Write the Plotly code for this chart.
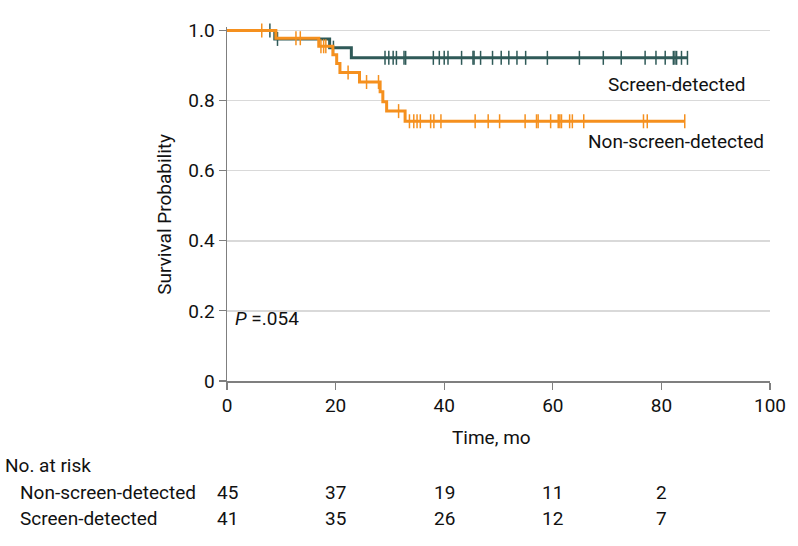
import numpy as np
import plotly.graph_objects as go

# ---- data ----
x_ticks = [0, 20, 40, 60, 80, 100]
y_tickvals = [0, 0.2, 0.4, 0.6, 0.8, 1.0]
y_ticktext = ["0", "0.2", "0.4", "0.6", "0.8", "1.0"]

screen_step_t = [0, 8.8, 18.9, 22.9]
screen_step_s = [1.0, 0.976, 0.951, 0.922]
screen_end = 84.8
screen_censor = [7.9, 9.3, 19.6, 29.1, 29.8, 30.6, 31.2, 32.6, 32.9, 38.0, 39.1, 40.0,
                 40.7, 43.2, 45.3, 45.5, 46.7, 48.9, 50.5, 51.9, 53.4, 55.0, 59.0, 64.9,
                 69.3, 72.6, 77.0, 79.0, 80.7, 82.2, 82.5, 82.8, 83.7, 84.8]

nonscreen_step_t = [0, 9.0, 16.9, 19.5, 20.2, 20.8, 24.4, 28.2, 28.7, 29.4, 32.8]
nonscreen_step_s = [1.0, 0.978, 0.955, 0.931, 0.906, 0.880, 0.853, 0.825, 0.797, 0.770, 0.741]
nonscreen_end = 84.3
nonscreen_censor = [6.4, 12.7, 13.5, 17.3, 17.8, 18.2, 22.3, 25.7, 27.9, 31.6, 33.6, 34.4,
                    35.0, 35.6, 37.5, 38.1, 39.4, 45.7, 48.1, 50.2, 54.9, 57.0, 57.3, 59.6,
                    61.0, 61.3, 61.6, 63.1, 63.6, 65.7, 76.7, 77.4, 84.3]

risk_times = [0, 20, 40, 60, 80]
risk_nonscreen = [45, 37, 19, 11, 2]
risk_screen = [41, 35, 26, 12, 7]

GREEN = "#2f5a58"
ORANGE = "#f5901e"
FONT = "Roboto"
FS = 19


def surv_at(t_steps, s_steps, t):
    idx = np.searchsorted(np.asarray(t_steps), np.asarray(t), side="right") - 1
    return np.asarray(s_steps)[idx]


fig = go.Figure()

for st, ss, end, cens, col in [
    (screen_step_t, screen_step_s, screen_end, screen_censor, GREEN),
    (nonscreen_step_t, nonscreen_step_s, nonscreen_end, nonscreen_censor, ORANGE),
]:
    fig.add_trace(go.Scatter(
        x=list(st) + [end], y=list(ss) + [ss[-1]], mode="lines",
        line=dict(color=col, width=3, shape="hv"), showlegend=False, hoverinfo="skip"))
    fig.add_trace(go.Scatter(
        x=cens, y=surv_at(st, ss, cens), mode="markers",
        marker=dict(symbol="line-ns", size=10, line=dict(color=col, width=1.5)),
        showlegend=False, cliponaxis=False, hoverinfo="skip"))

W, H = 798, 546
L, T, B, R = 227, 27, 165, 22
ph = H - T - B
pw = W - L - R


def py(pix):
    return (H - B - pix) / ph


def px(pix):
    return (pix - L) / pw


annots = [
    dict(x=82.7, y=0.846, xref="x", yref="y", text="Screen-detected", showarrow=False,
         xanchor="center", yanchor="middle"),
    dict(x=82.6, y=0.684, xref="x", yref="y", text="Non-screen-detected", showarrow=False,
         xanchor="center", yanchor="middle"),
    dict(x=1.1, y=0.177, xref="x", yref="y", text="<i>P</i> =.054", showarrow=False,
         xanchor="left", yanchor="middle"),
    dict(x=48.8, y=py(437), xref="x", yref="paper", text="Time, mo", showarrow=False,
         xanchor="center", yanchor="middle"),
    dict(x=px(163), y=py(214), xref="paper", yref="paper", text="Survival Probability",
         showarrow=False, textangle=-90, xanchor="center", yanchor="middle"),
    dict(x=px(1), y=py(465), xref="paper", yref="paper", text="No. at risk",
         showarrow=False, xanchor="left", yanchor="middle"),
    dict(x=px(16), y=py(492), xref="paper", yref="paper", text="Non-screen-detected",
         showarrow=False, xanchor="left", yanchor="middle"),
    dict(x=px(16), y=py(518), xref="paper", yref="paper", text="Screen-detected",
         showarrow=False, xanchor="left", yanchor="middle"),
]
for t, n in zip(risk_times, risk_nonscreen):
    annots.append(dict(x=t, y=py(492), xref="x", yref="paper", text=str(n),
                       showarrow=False, xanchor="center", yanchor="middle"))
for t, n in zip(risk_times, risk_screen):
    annots.append(dict(x=t, y=py(518), xref="x", yref="paper", text=str(n),
                       showarrow=False, xanchor="center", yanchor="middle"))

fig.update_layout(
    width=W, height=H,
    margin=dict(l=L, r=R, t=T, b=B, pad=0),
    paper_bgcolor="white", plot_bgcolor="white",
    font=dict(family=FONT, size=FS, color="#111111"),
    annotations=annots,
    xaxis=dict(range=[0, 100], tickvals=x_ticks, showgrid=False, zeroline=False,
               showline=True, linecolor="#7f7f7f", linewidth=1.5,
               ticks="outside", ticklen=7, tickcolor="#7f7f7f", tickwidth=1.2,
               tickfont=dict(size=FS), fixedrange=True),
    yaxis=dict(range=[0, 1.01], tickvals=y_tickvals, ticktext=y_ticktext,
               showgrid=True, gridcolor="#d9d9d9", gridwidth=1.5, zeroline=False,
               showline=True, linecolor="#7f7f7f", linewidth=1.5,
               ticks="outside", ticklen=7, tickcolor="#7f7f7f", tickwidth=1.2,
               tickfont=dict(size=FS), fixedrange=True),
)

fig.write_html("out.html", config={"displayModeBar": False, "staticPlot": True},
               post_script="document.body.style.margin='0';document.body.style.overflow='hidden';")
